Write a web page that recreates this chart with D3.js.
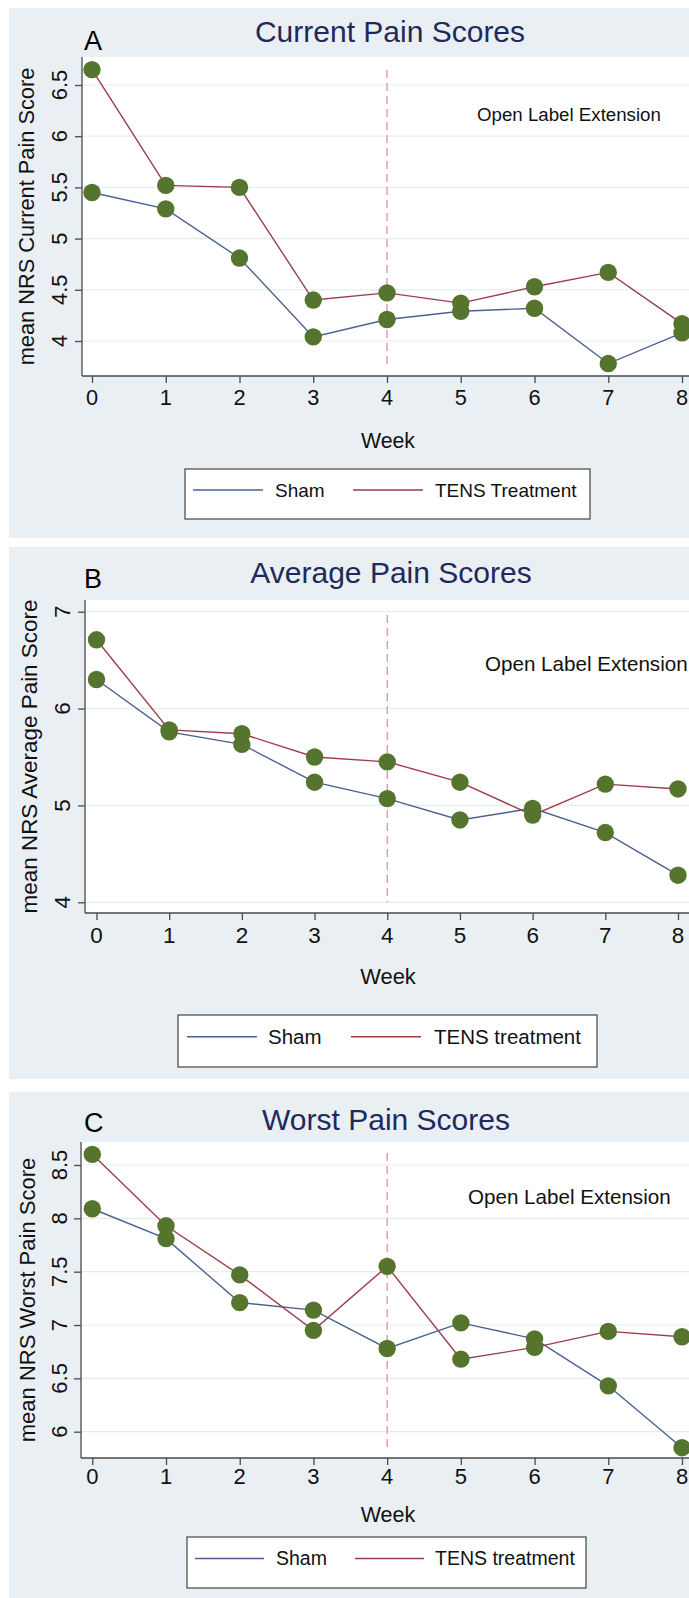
<!DOCTYPE html>
<html><head><meta charset="utf-8">
<script src="https://cdn.jsdelivr.net/npm/d3@7"></script>
<style>
body{margin:0;background:#fff;}
svg{display:block;font-family:"Liberation Sans",Arial,Helvetica,sans-serif;}
</style>
</head><body>
<svg id="chart" width="689" height="1598"></svg>
<script>
// ---------- data ----------
const weeks = [0, 1, 2, 3, 4, 5, 6, 7, 8];
const currentSham = [5.45, 5.29, 4.81, 4.04, 4.21, 4.29, 4.32, 3.78, 4.08];
const currentTens = [6.65, 5.52, 5.50, 4.40, 4.47, 4.37, 4.53, 4.67, 4.17];
const averageSham = [6.30, 5.76, 5.63, 5.24, 5.07, 4.85, 4.97, 4.72, 4.28];
const averageTens = [6.71, 5.78, 5.74, 5.50, 5.45, 5.24, 4.90, 5.22, 5.17];
const worstSham = [8.09, 7.81, 7.21, 7.14, 6.78, 7.02, 6.87, 6.43, 5.85];
const worstTens = [8.60, 7.93, 7.47, 6.95, 7.55, 6.68, 6.79, 6.94, 6.89];
const currentTicks = [4, 4.5, 5, 5.5, 6, 6.5];
const averageTicks = [4, 5, 6, 7];
const worstTicks = [6, 6.5, 7, 7.5, 8, 8.5];
const weekTicks = [0, 1, 2, 3, 4, 5, 6, 7, 8];
const panelLetters = ["A", "B", "C"];
const panelTitles = ["Current Pain Scores", "Average Pain Scores", "Worst Pain Scores"];
const yTitles = ["mean NRS Current Pain Score", "mean NRS Average Pain Score", "mean NRS Worst Pain Score"];
const legendLabels = [["Sham", "TENS Treatment"], ["Sham", "TENS treatment"], ["Sham", "TENS treatment"]];
const annotation = "Open Label Extension";
const xTitle = "Week";
const splitWeek = 4;

// ---------- styles ----------
const BG = "#e9eff3", GRID = "#e6edf0", AXIS = "#4a4a4a";
const SHAM_COL = "#4a6090", TENS_COL = "#9c3d4b", MARK = "#55752f";
const TITLE_COL = "#1f2a5a", DASH_COL = "#e3859a";

const svg = d3.select("#chart");

// per-panel layout (pixels)
const panels = [
  { sham: currentSham, tens: currentTens, ticks: currentTicks, yDom: [4, 6.5],
    bg: [8, 538], plot: [82, 57, 376], yRange: [341, 85], xRange: [92, 682],
    letterY: 50, titleY: 42, titleX: 390, ytX: 34, tickLblX: 67, xLblY: 405, weekY: 448,
    ann: [477, 121, 18.7], dash: [70, 365],
    leg: [185, 469, 405, 50], legFs: 19, legLine: [193, 263, 353, 423], legText: [275, 435],
    fsScale: 0.99 },
  { sham: averageSham, tens: averageTens, ticks: averageTicks, yDom: [4, 7],
    bg: [547, 1079], plot: [85, 600, 913], yRange: [902.3, 611.7], xRange: [96.5, 678],
    letterY: 588, titleY: 583, titleX: 391, ytX: 37, tickLblX: 70, xLblY: 943, weekY: 984,
    ann: [485, 671, 20.6], dash: [615, 902],
    leg: [178, 1015, 419, 52], legFs: 20.5, legLine: [187, 257, 351, 421], legText: [268, 434],
    fsScale: 1.02 },
  { sham: worstSham, tens: worstTens, ticks: worstTicks, yDom: [6, 8.5],
    bg: [1092, 1598], plot: [81, 1142, 1458], yRange: [1431.7, 1165], xRange: [92.3, 682],
    letterY: 1132, titleY: 1130, titleX: 386, ytX: 35, tickLblX: 67, xLblY: 1484, weekY: 1522,
    ann: [468, 1204, 20.6], dash: [1153, 1447],
    leg: [187, 1537, 399, 51], legFs: 19.5, legLine: [195, 264, 355, 424], legText: [276, 435],
    fsScale: 1.0 }
];

panels.forEach((p, i) => {
  const g = svg.append("g");
  const x = d3.scaleLinear().domain([0, 8]).range(p.xRange);
  const y = d3.scaleLinear().domain(p.yDom).range(p.yRange);
  const [px, ptop, pbot] = p.plot;

  // panel background
  g.append("rect").attr("x", 9).attr("y", p.bg[0]).attr("width", 689).attr("height", p.bg[1] - p.bg[0]).attr("fill", BG);
  // plot region
  g.append("rect").attr("x", px).attr("y", ptop).attr("width", 700 - px).attr("height", pbot - ptop).attr("fill", "#fff");

  // gridlines
  g.selectAll(".grid").data(p.ticks).join("line")
    .attr("x1", px).attr("x2", 700).attr("y1", d => y(d)).attr("y2", d => y(d))
    .attr("stroke", GRID).attr("stroke-width", 1.2);

  // axes
  const yAxis = d3.axisLeft(y).tickValues(p.ticks).tickSize(7).tickFormat("");
  const yg = g.append("g").attr("transform", `translate(${px},0)`).call(yAxis);
  yg.select(".domain").attr("d", `M0,${ptop}V${pbot}`);
  const xAxis = d3.axisBottom(x).tickValues(weekTicks).tickSize(7).tickFormat("");
  const xg = g.append("g").attr("transform", `translate(0,${pbot})`).call(xAxis);
  xg.select(".domain").attr("d", `M${px},0H700`);
  [yg, xg].forEach(a => { a.selectAll("line,path").attr("stroke", AXIS).attr("stroke-width", 1.3); });

  const fs = 22 * p.fsScale;
  // y tick labels (rotated)
  g.selectAll(".ytl").data(p.ticks).join("text")
    .attr("transform", d => `translate(${p.tickLblX},${y(d)}) rotate(-90)`)
    .attr("text-anchor", "middle").attr("font-size", fs).attr("fill", "#111")
    .text(d => String(d));
  // x tick labels
  g.selectAll(".xtl").data(weekTicks).join("text")
    .attr("x", d => x(d)).attr("y", p.xLblY)
    .attr("text-anchor", "middle").attr("font-size", fs).attr("fill", "#111")
    .text(d => String(d));

  // axis titles
  g.append("text").attr("transform", `translate(${p.ytX},${(ptop + pbot) / 2}) rotate(-90)`)
    .attr("text-anchor", "middle").attr("font-size", 22 * p.fsScale).attr("fill", "#111").text(yTitles[i]);
  g.append("text").attr("x", 388).attr("y", p.weekY).attr("text-anchor", "middle")
    .attr("font-size", 21.5 * p.fsScale).attr("fill", "#111").text(xTitle);

  // panel letter + title
  g.append("text").attr("x", 84).attr("y", p.letterY).attr("font-size", 27).attr("fill", "#000").text(panelLetters[i]);
  g.append("text").attr("x", p.titleX).attr("y", p.titleY).attr("text-anchor", "middle")
    .attr("font-size", 30).attr("fill", TITLE_COL).text(panelTitles[i]);

  // dashed split line
  g.append("line").attr("x1", x(splitWeek)).attr("x2", x(splitWeek))
    .attr("y1", p.dash[0]).attr("y2", p.dash[1])
    .attr("stroke", DASH_COL).attr("stroke-width", 1.2).attr("stroke-dasharray", "8,5");

  // annotation
  g.append("text").attr("x", p.ann[0]).attr("y", p.ann[1]).attr("font-size", p.ann[2])
    .attr("fill", "#111").text(annotation);

  // lines
  const line = d3.line().x((d, k) => x(weeks[k])).y(d => y(d));
  g.append("path").datum(p.sham).attr("d", line).attr("fill", "none").attr("stroke", SHAM_COL).attr("stroke-width", 1.4);
  g.append("path").datum(p.tens).attr("d", line).attr("fill", "none").attr("stroke", TENS_COL).attr("stroke-width", 1.4);

  // markers
  [p.sham, p.tens].forEach(s => {
    g.selectAll(null).data(s).join("circle")
      .attr("cx", (d, k) => x(weeks[k])).attr("cy", d => y(d)).attr("r", 8.7).attr("fill", MARK);
  });

  // legend
  const [lx, ly, lw, lh] = p.leg;
  g.append("rect").attr("x", lx).attr("y", ly).attr("width", lw).attr("height", lh)
    .attr("fill", "#fff").attr("stroke", "#444").attr("stroke-width", 1.2);
  const midY = ly + lh * 0.42;
  g.append("line").attr("x1", p.legLine[0]).attr("x2", p.legLine[1]).attr("y1", midY).attr("y2", midY)
    .attr("stroke", SHAM_COL).attr("stroke-width", 1.5);
  g.append("line").attr("x1", p.legLine[2]).attr("x2", p.legLine[3]).attr("y1", midY).attr("y2", midY)
    .attr("stroke", TENS_COL).attr("stroke-width", 1.5);
  g.append("text").attr("x", p.legText[0]).attr("y", midY + p.legFs * 0.36).attr("font-size", p.legFs)
    .attr("fill", "#111").text(legendLabels[i][0]);
  g.append("text").attr("x", p.legText[1]).attr("y", midY + p.legFs * 0.36).attr("font-size", p.legFs)
    .attr("fill", "#111").text(legendLabels[i][1]);
});
</script>
</body></html>
